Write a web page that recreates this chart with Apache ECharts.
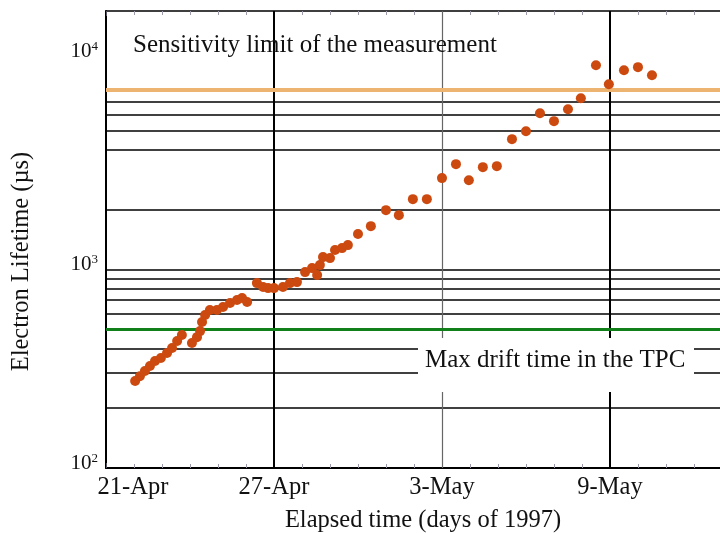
<!DOCTYPE html>
<html><head><meta charset="utf-8">
<script src="https://cdn.jsdelivr.net/npm/echarts@6/dist/echarts.min.js"></script>
<style>html,body{margin:0;padding:0;background:#fff}#c{width:720px;height:533px}</style>
</head><body><div id="c"></div>
<script>
// x values: days elapsed since 21-Apr-1997
const dayLabels = ['21-Apr', '27-Apr', '3-May', '9-May']; // at days 0, 6, 12, 18
const days = [1.04,1.21,1.39,1.57,1.75,1.96,2.18,2.36,2.54,2.71,3.07,3.25,3.36,3.43,3.54,3.71,3.96,4.18,4.43,4.68,4.86,5.04,
  5.39,5.61,5.79,6.0,6.32,6.57,6.82,7.11,7.36,7.54,7.64,7.75,8.0,8.18,8.43,8.64,9.0,9.46,10.0,10.46,10.96,11.46,
  12.0,12.5,12.96,13.46,13.96,14.5,15.0,15.5,16.0,16.5,16.96,17.5,17.96,18.5,19.0,19.5];
const lifetime = [274,290,308,326,346,358,379,402,436,467,426,456,489,543,589,624,624,646,677,701,717,685,
  853,815,805,805,815,853,863,969,1015,936,1051,1153,1140,1251,1280,1325,1506,1651,1988,1876,2258,2258,
  2881,3388,2812,3272,3311,4527,4966,6118,5578,6408,7279,10670,8560,10070,10430,9500];
const yGridValues = [200,300,400,600,700,800,900,1000,2000,4000,5000,6000,7000];
const xGridDays = [6, 12, 18];
const sensitivityLimit = 8000;
const maxDriftTime = 500;
const annotations = ['Sensitivity limit of the measurement', 'Max drift time in the TPC'];

const FONT = 'Liberation Serif';
const chart = echarts.init(document.getElementById('c'), null, {renderer: 'canvas'});

const supShift = {2: 10, 3: 10, 4: 40};
const richY = {};
[2,3,4].forEach(e => {
  richY['b' + e] = {fontFamily: FONT, fontSize: 21, color: '#111', lineHeight: 22, verticalAlign: 'bottom'};
  richY['s' + e] = {fontFamily: FONT, fontSize: 13, color: '#111', lineHeight: 22, verticalAlign: 'top', padding: [0,0,8,0]};
  richY['g' + e] = {fontSize: 1, lineHeight: supShift[e], height: supShift[e]};
});

const tickCommon = {
  axisTick: {show: true, inside: true, length: 5, lineStyle: {color: '#556', width: 1}},
  minorTick: {show: true, splitNumber: 6, length: 4, lineStyle: {color: '#99a', width: 1}},
  splitLine: {show: false}
};

chart.setOption({
  animation: false,
  backgroundColor: '#fff',
  grid: {left: 106, top: 11, right: 0, bottom: 65, containLabel: false, outerBoundsMode: 'none'},
  xAxis: [
    Object.assign({
      type: 'value', min: 0, max: 21.93, interval: 6, position: 'bottom',
      axisLine: {show: true, onZero: false, lineStyle: {color: '#000', width: 2}},
      axisLabel: {
        margin: 7,
        fontFamily: FONT, fontSize: 24.5, color: '#111',
        formatter: v => {
          const i = Math.round(v / 6);
          if (Math.abs(v - i * 6) > 1e-6 || i >= dayLabels.length) return '';
          return i === 0 ? '{p|' + dayLabels[i] + '}' : dayLabels[i];
        },
        rich: {p: {fontFamily: FONT, fontSize: 24.5, color: '#111', padding: [0, 0, 0, 54]}}
      },
      name: 'Elapsed time (days of 1997)', nameLocation: 'middle', nameGap: 40,
      nameTextStyle: {fontFamily: FONT, fontSize: 24.5, color: '#111', padding: [0, 0, 0, 20]}
    }, tickCommon),
    Object.assign({
      type: 'value', min: 0, max: 21.93, interval: 6, position: 'top',
      axisLine: {show: true, onZero: false, lineStyle: {color: '#000', width: 1.5}},
      axisLabel: {show: false}
    }, tickCommon)
  ],
  yAxis: {
    type: 'log', logBase: 10, min: 100, max: 20000,
    axisLine: {show: true, lineStyle: {color: '#000', width: 2}},
    axisTick: {show: false},
    splitLine: {show: false},
    axisLabel: {
      margin: 8,
      formatter: v => {
        const l = Math.log10(v), e = Math.round(l);
        if (Math.abs(l - e) > 1e-6) return '';
        return '{b' + e + '|10}{s' + e + '|' + e + '}\n{g' + e + '| }';
      },
      rich: richY
    },
    name: 'Electron Lifetime (µs)', nameLocation: 'middle', nameGap: 72, nameRotate: 90,
    nameTextStyle: {fontFamily: FONT, fontSize: 24.5, color: '#111', padding: [0, 44, 0, 0]}
  },
  series: [
    {
      type: 'line', data: [], silent: true, z: 1,
      markLine: {
        silent: true, symbol: 'none', animation: false,
        label: {show: false},
        lineStyle: {color: '#000', width: 1.6, type: 'solid'},
        data: yGridValues.map(v => ({yAxis: v}))
          .concat(xGridDays.map(d => d === 12
            ? {xAxis: d, lineStyle: {color: '#666', width: 1.2}}
            : {xAxis: d, lineStyle: {color: '#000', width: 2}}))
      }
    },
    {
      type: 'line', data: [], silent: true, z: 2,
      markLine: {
        silent: true, symbol: 'none', animation: false,
        label: {show: false},
        data: [
          {yAxis: sensitivityLimit, lineStyle: {color: '#EDB471', width: 4, type: 'solid'}},
          {yAxis: maxDriftTime, lineStyle: {color: '#11801a', width: 3, type: 'solid'}}
        ]
      }
    },
    {
      type: 'scatter', z: 5,
      symbol: 'circle', symbolSize: 10,
      itemStyle: {color: '#CC4A10', opacity: 1},
      data: days.map((d, i) => [d, lifetime[i]])
    }
  ],
  graphic: [
    {type: 'text', left: 133, top: 33, z: 10,
     style: {text: annotations[0], fontFamily: FONT, fontSize: 25, fill: '#111'}},
    {type: 'rect', left: 418, top: 338, z: 10, shape: {width: 276, height: 54}, style: {fill: '#fff'}},
    {type: 'text', left: 425, top: 348, z: 11,
     style: {text: annotations[1], fontFamily: FONT, fontSize: 25, fill: '#111'}}
  ]
});
</script></body></html>
